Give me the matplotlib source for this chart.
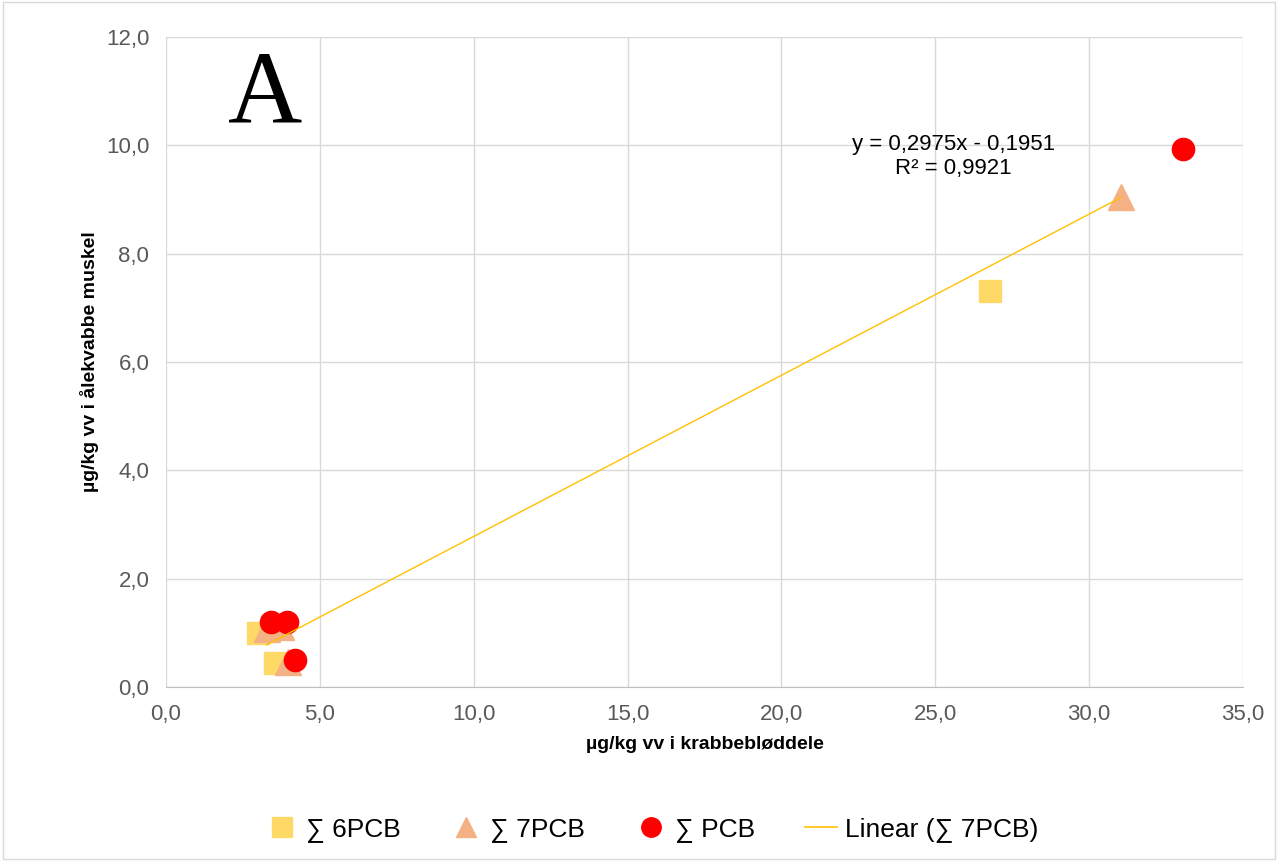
import matplotlib.pyplot as plt
from matplotlib.ticker import FuncFormatter
from matplotlib.lines import Line2D
from matplotlib.patches import Rectangle
import numpy as np

plt.rcParams['font.family'] = ['Liberation Sans', 'DejaVu Sans']

# data
x_6pcb = [2.99, 3.54, 26.78]
y_6pcb = [1.00, 0.44, 7.31]
x_7pcb = [3.27, 3.75, 3.97, 31.04]
y_7pcb = [1.08, 1.10, 0.47, 9.04]
x_pcb = [3.41, 3.93, 4.19, 33.05]
y_pcb = [1.20, 1.20, 0.50, 9.93]
slope, intercept = 0.2975, -0.1951

fig = plt.figure(figsize=(12.78, 8.61), dpi=100)
ax = fig.add_axes([166/1278, 1 - 687/861, (1243-166)/1278, (687-37)/861])

ax.plot(x_6pcb, y_6pcb, 's', color='#FFD966', markersize=16, zorder=3)
ax.plot(x_7pcb, y_7pcb, '^', color='#F4B183', markersize=19, zorder=4)
ax.plot(x_pcb, y_pcb, 'o', color='#FF0000', markersize=16, zorder=5)

xf = np.array([min(x_7pcb), max(x_7pcb)])
ax.plot(xf, slope * xf + intercept, color='#FFC000', lw=1.0, zorder=6)

ax.set_xlim(0, 35)
ax.set_ylim(0, 12)
ax.set_xticks(np.arange(0, 35.1, 5))
ax.set_yticks(np.arange(0, 12.1, 2))
fmt = FuncFormatter(lambda v, p: f"{v:.1f}".replace('.', ','))
ax.xaxis.set_major_formatter(fmt)
ax.yaxis.set_major_formatter(fmt)
ax.grid(True, color='#D9D9D9', lw=1)
ax.set_axisbelow(True)
for s in ['top', 'right', 'left']:
    ax.spines[s].set_visible(False)
ax.spines['bottom'].set_color('#BFBFBF')
ax.tick_params(length=0, labelsize=16, colors='#595959', pad=12)

ax.set_xlabel('µg/kg vv i krabbebløddele', fontsize=14, fontweight='bold', labelpad=8)
ax.set_ylabel('µg/kg vv i ålekvabbe muskel', fontsize=14, fontweight='bold', labelpad=5)

ax.text(3.22, 10.88, 'A', family='Liberation Serif', fontsize=74, ha='center', va='center')
ax.text(25.6, 9.8, 'y = 0,2975x - 0,1951\nR² = 0,9921', fontsize=16, ha='center', va='center',
        linespacing=1.2)

handles = [
    Line2D([], [], marker='s', color='#FFD966', ls='', markersize=14),
    Line2D([], [], marker='^', color='#F4B183', ls='', markersize=14),
    Line2D([], [], marker='o', color='#FF0000', ls='', markersize=14),
    Line2D([], [], color='#FFC000', lw=1.2),
]
fig.legend(handles, ['∑ 6PCB', '∑ 7PCB', '∑ PCB', 'Linear (∑ 7PCB)'],
           loc='center', bbox_to_anchor=(652/1278, 1 - 830/861), ncol=4, frameon=False,
           fontsize=19, handlelength=1.2, handletextpad=0.3, columnspacing=1.9)

fig.patches.append(Rectangle((0.002, 0.002), 0.996, 0.996, transform=fig.transFigure,
                             fill=False, edgecolor='#D9D9D9', lw=1))

fig.savefig('out.png', dpi=100)
